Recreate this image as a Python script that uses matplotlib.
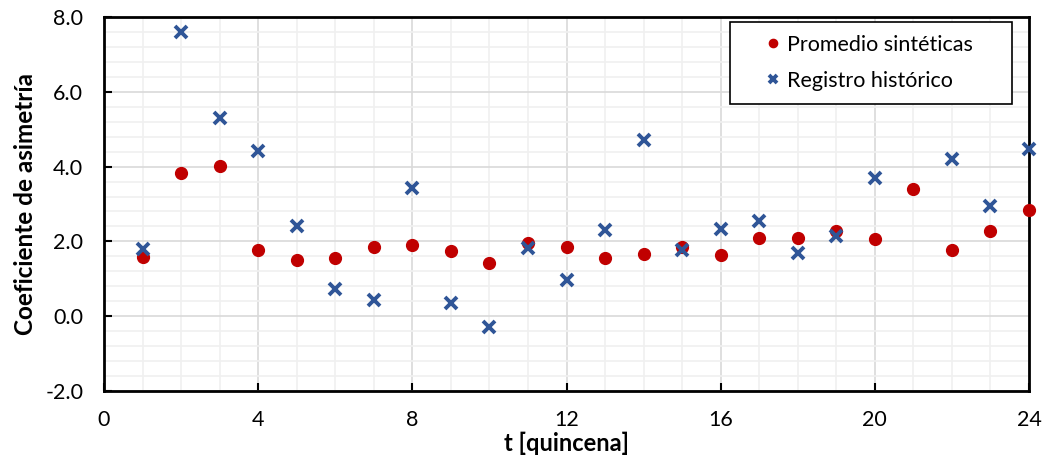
import matplotlib
matplotlib.use("Agg")
import matplotlib.pyplot as plt
import numpy as np
from matplotlib.ticker import MultipleLocator, FormatStrFormatter

plt.rcParams['font.family'] = ['Lato', 'DejaVu Sans']

t_syn = [1, 2, 3, 4, 5, 6, 7, 8, 9, 10, 11, 12, 13, 14, 15, 16, 17, 18, 19, 20, 21, 22, 23, 24]
promedio_sinteticas = [1.57, 3.84, 4.01, 1.78, 1.49, 1.56, 1.86, 1.90, 1.75, 1.42, 1.97, 1.85,
                       1.55, 1.67, 1.85, 1.63, 2.09, 2.08, 2.27, 2.07, 3.41, 1.76, 2.28, 2.84]
t_hist = [1, 2, 3, 4, 5, 6, 7, 8, 9, 10, 11, 12, 13, 14, 15, 16, 17, 18, 19, 20, 22, 23, 24]
registro_historico = [1.79, 7.59, 5.30, 4.43, 2.42, 0.73, 0.44, 3.44, 0.34, -0.29, 1.82, 0.97,
                      2.31, 4.72, 1.77, 2.32, 2.54, 1.69, 2.15, 3.69, 4.21, 2.95, 4.46]

fig = plt.figure(figsize=(10.44, 4.66), dpi=100)
ax = fig.add_axes([104/1044, 1-391/466, 925/1044, 374/466])

ax.plot(t_syn, promedio_sinteticas, linestyle='none', marker='o', markersize=8.5,
        color='#C00000', label='Promedio sintéticas', zorder=3, clip_on=False)
ax.plot(t_hist, registro_historico, linestyle='none', marker='x', markersize=9,
        markeredgewidth=2.8, color='#2F5597', label='Registro histórico', zorder=3, clip_on=False)

ax.set_xlim(0, 24)
ax.set_ylim(-2, 8)
ax.xaxis.set_major_locator(MultipleLocator(4))
ax.xaxis.set_minor_locator(MultipleLocator(1))
ax.yaxis.set_major_locator(MultipleLocator(2))
ax.yaxis.set_minor_locator(MultipleLocator(0.4))
ax.yaxis.set_major_formatter(FormatStrFormatter('%.1f'))

ax.grid(which='major', color='#d9d9d9', linewidth=1.2, zorder=0)
ax.grid(which='minor', color='#f0f0f0', linewidth=1.2, zorder=0)
ax.set_axisbelow(True)

for s in ax.spines.values():
    s.set_color('black')
    s.set_linewidth(2)

ax.tick_params(which='major', direction='in', length=6, width=1.5, labelsize=15.5,
               colors='black')
ax.tick_params(axis='x', which='major', pad=14)
ax.tick_params(axis='y', which='major', pad=15)
ax.tick_params(which='minor', length=0)

ax.set_xlabel('t [quincena]', fontsize=17, fontweight='bold', labelpad=1)
ax.set_ylabel('Coeficiente de asimetría', fontsize=17.5, fontweight='bold', labelpad=6)

leg = ax.legend(loc='upper left', bbox_to_anchor=(626/925, 0.770, 282/925, 0.217),
                mode='expand', fontsize=15.5,
                fancybox=False, framealpha=1, edgecolor='black', handletextpad=-0.75,
                borderpad=0.6, labelspacing=0.75, markerscale=0.7, handlelength=2.8,
                borderaxespad=0)
leg.get_frame().set_linewidth(1.2)

fig.savefig('out.png', dpi=100)
